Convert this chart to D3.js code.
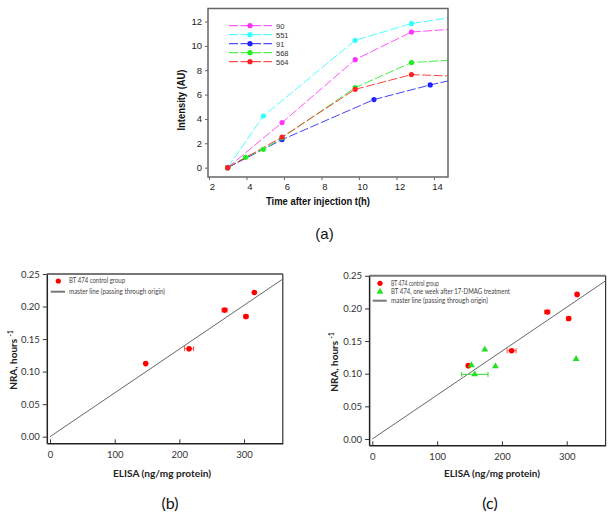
<!DOCTYPE html>
<html><head><meta charset="utf-8">
<script src="https://cdn.jsdelivr.net/npm/d3@7"></script>
<style>body{margin:0;background:#fff}svg{display:block}</style>
</head><body>
<svg id="c" width="616" height="520"></svg>
<script>
// ---------- Data: panel (a) ----------
const seriesNames = ["90", "551", "91", "568", "564"];
const seriesColors = ["#ff33ff", "#33ffff", "#2222ff", "#22ee22", "#ff2222"];
const t90  = [3, 5.9, 9.8, 12.8];        const v90  = [0, 3.7, 8.87, 11.14];
const t551 = [3, 4.9, 9.8, 12.8];        const v551 = [0, 4.24, 10.46, 11.83];
const t91  = [3, 5.9, 10.8, 13.8];       const v91  = [0, 2.3, 5.59, 6.79];
const t568 = [3, 3.95, 4.9, 5.9, 9.8, 12.8]; const v568 = [0, 0.85, 1.5, 2.45, 6.57, 8.63];
const t564 = [3, 5.9, 9.8, 12.8];        const v564 = [0, 2.51, 6.43, 7.64];
// value where each line leaves the right edge of the frame
const edgeT = 14.75;
const edgeValues = [11.34, 12.29, 7.12, 8.82, 7.53];
const aXTicks = [2, 4, 6, 8, 10, 12, 14];
const aYTicks = [0, 2, 4, 6, 8, 10, 12];

// ---------- Data: panels (b), (c) ----------
const ctrlElisa = [148, 215, 270, 303, 316];
const ctrlNra   = [0.1123, 0.1352, 0.1945, 0.1845, 0.2215];
const ctrlErr   = [0, 7, 4, 3, 0];
const trtElisa  = [153, 173.5, 190, 158, 314.5];
const trtNra    = [0.113, 0.137, 0.1112, 0.099, 0.1225];
const trtErr    = [0, 0, 0, 20.5, 0];
const masterSlope = 0.000673; // NRA per ng/mg
const bXTicks = [0, 100, 200, 300];
const bYTicks = [0, 0.05, 0.10, 0.15, 0.20, 0.25];

const svg = d3.select("#c");
const arial = "'Liberation Sans', Arial, sans-serif";
const cal = "Lato, 'Open Sans', sans-serif";

// ================= Panel (a) =================
(function(){
  const x = d3.scaleLinear().domain([1.95, 14.75]).range([208, 448]);
  const y = d3.scaleLinear().domain([-0.77, 13.07]).range([177, 8.5]);
  const g = svg.append("g");
  g.append("defs").append("clipPath").attr("id","clipA")
    .append("rect").attr("x",208).attr("y",8.5).attr("width",240).attr("height",168.5);

  const ts = [t90, t551, t91, t568, t564];
  const vs = [v90, v551, v91, v568, v564];
  const line = d3.line().x(d => x(d[0])).y(d => y(d[1]));
  const lg = g.append("g").attr("clip-path","url(#clipA)");
  seriesNames.forEach((n, i) => {
    const pts = ts[i].map((t, j) => [t, vs[i][j]]).concat([[edgeT, edgeValues[i]]]);
    lg.append("path").attr("d", line(pts)).attr("fill","none")
      .attr("stroke", seriesColors[i]).attr("stroke-width", 1)
      .attr("stroke-dasharray","9,2.5").attr("opacity",0.85);
  });
  seriesNames.forEach((n, i) => {
    lg.selectAll(null).data(ts[i].map((t, j) => [t, vs[i][j]])).enter().append("circle")
      .attr("cx", d => x(d[0])).attr("cy", d => y(d[1])).attr("r", 2.6)
      .attr("fill", seriesColors[i]);
  });

  // frame
  g.append("rect").attr("x",208).attr("y",8.5).attr("width",240).attr("height",168.5)
    .attr("fill","none").attr("stroke","#666").attr("stroke-width",1.5);

  const xa = g.append("g").attr("transform","translate(0,177)")
    .call(d3.axisBottom(x).tickValues(aXTicks).tickSize(3).tickPadding(3));
  const ya = g.append("g").attr("transform","translate(208,0)")
    .call(d3.axisLeft(y).tickValues(aYTicks).tickSize(3).tickPadding(3));
  [xa, ya].forEach(a => {
    a.select(".domain").remove();
    a.selectAll("line").attr("stroke","#666");
    a.selectAll("text").attr("font-family",arial).attr("font-size",9.5).attr("fill","#222");
  });
  xa.selectAll("text").attr("dx", 3);

  g.append("text").attr("x",318).attr("y",205).attr("text-anchor","middle")
    .attr("font-family",arial).attr("font-weight","bold").attr("font-size",10)
    .attr("textLength",104).attr("lengthAdjust","spacingAndGlyphs").attr("fill","#111")
    .text("Time after injection  t(h)");
  g.append("text").attr("transform","translate(185,100) rotate(-90)").attr("text-anchor","middle")
    .attr("font-family",arial).attr("font-weight","bold").attr("font-size",10)
    .attr("textLength",61).attr("lengthAdjust","spacingAndGlyphs").attr("fill","#111")
    .text("Intensity (AU)");

  // legend
  const leg = g.append("g");
  seriesNames.forEach((n, i) => {
    const yy = 25.7 + i * 9;
    leg.append("line").attr("x1",229).attr("x2",272).attr("y1",yy).attr("y2",yy)
      .attr("stroke", seriesColors[i]).attr("stroke-width",1).attr("stroke-dasharray","9,2.5");
    leg.append("circle").attr("cx",250).attr("cy",yy).attr("r",2.6).attr("fill",seriesColors[i]);
    leg.append("text").attr("x",276).attr("y",yy+2.8).attr("font-family",arial)
      .attr("font-size",7.5).attr("fill","#333").text(n);
  });

  g.append("text").attr("x",324.5).attr("y",239).attr("text-anchor","middle")
    .attr("font-family",arial).attr("font-size",15).attr("fill","#111").text("(a)");
})();

// ================= Panels (b) and (c) =================
function nraPanel(opt){
  const x = d3.scaleLinear().domain([-5, 360]).range([opt.x0, opt.x1]);
  const y = d3.scaleLinear().domain([opt.yMin, 0.25]).range([opt.yB, opt.yT]);
  const g = svg.append("g");
  const W = opt.x1 - opt.x0, H = opt.yB - opt.yT;
  g.append("defs").append("clipPath").attr("id","clip"+opt.id)
    .append("rect").attr("x",opt.x0).attr("y",opt.yT).attr("width",W).attr("height",H);

  // frame
  g.append("line").attr("x1",opt.x0).attr("x2",opt.x1).attr("y1",opt.yT).attr("y2",opt.yT)
    .attr("stroke","#777").attr("stroke-width",2);
  g.append("line").attr("x1",opt.x1).attr("x2",opt.x1).attr("y1",opt.yT).attr("y2",opt.yB)
    .attr("stroke","#333").attr("stroke-width",1.2);

  // master line
  g.append("path").attr("clip-path","url(#clip"+opt.id+")")
    .attr("d", d3.line().x(d => x(d)).y(d => y(d * masterSlope))([0, 400]))
    .attr("stroke","#666").attr("stroke-width",1).attr("fill","none");

  const pg = g.append("g").attr("clip-path","url(#clip"+opt.id+")");
  function errBars(xs, ys, es, col){
    xs.forEach((xv, i) => {
      if (!es[i]) return;
      const yy = y(ys[i]);
      pg.append("line").attr("x1",x(xv-es[i])).attr("x2",x(xv+es[i])).attr("y1",yy).attr("y2",yy)
        .attr("stroke",col).attr("stroke-width",1);
      [xv-es[i], xv+es[i]].forEach(e => pg.append("line").attr("x1",x(e)).attr("x2",x(e))
        .attr("y1",yy-2.5).attr("y2",yy+2.5).attr("stroke",col).attr("stroke-width",1));
    });
  }
  errBars(ctrlElisa, ctrlNra, ctrlErr, "#ff5555");
  if (opt.treated) errBars(trtElisa, trtNra, trtErr, "#33dd33");
  pg.selectAll(null).data(ctrlElisa).enter().append("circle")
    .attr("cx", d => x(d)).attr("cy", (d, i) => y(ctrlNra[i])).attr("r", 2.8).attr("fill","#ff0000");
  if (opt.treated) {
    const tri = d3.symbol().type(d3.symbolTriangle).size(20);
    pg.selectAll(null).data(trtElisa).enter().append("path").attr("d", tri)
      .attr("transform", (d, i) => `translate(${x(d)},${y(trtNra[i])})`).attr("fill","#22e022");
  }

  // axes
  const xa = g.append("g").attr("transform",`translate(0,${opt.yB})`)
    .call(d3.axisBottom(x).tickValues(bXTicks).tickSizeInner(-4).tickSizeOuter(0).tickPadding(8));
  const ya = g.append("g").attr("transform",`translate(${opt.x0},0)`)
    .call(d3.axisLeft(y).tickValues(bYTicks).tickFormat(d3.format(".2f")).tickSizeInner(4).tickSizeOuter(0).tickPadding(3));
  [xa, ya].forEach(a => {
    a.select(".domain").attr("stroke","#222").attr("stroke-width",1.5);
    a.selectAll("line").attr("stroke","#333");
    a.selectAll("text").attr("font-family",cal).attr("font-size",9.5).attr("fill","#333");
  });

  // titles
  g.append("text").attr("x",opt.xTitleX).attr("y",476.5).attr("text-anchor","middle")
    .attr("font-family",cal).attr("font-weight","bold").attr("font-size",10)
    .attr("textLength",opt.xTitleW).attr("lengthAdjust","spacingAndGlyphs").attr("fill","#222")
    .text("ELISA (ng/mg protein)");
  const yt = g.append("text").attr("transform",`translate(${opt.yTitleX},${opt.yTitleY}) rotate(-90)`)
    .attr("text-anchor","middle").attr("font-family",cal).attr("font-weight","bold")
    .attr("font-size",10).attr("fill","#222");
  yt.append("tspan").text("NRA, hours ");
  yt.append("tspan").attr("font-size",6.5).attr("dy",-4).text("-1");

  // legend
  const L = opt.legend;
  const lt = (yy, s, w) => g.append("text").attr("x",L.tx).attr("y",yy+2.3).attr("font-family",cal)
    .attr("font-size",7).attr("fill","#444").attr("textLength",w).attr("lengthAdjust","spacingAndGlyphs").text(s);
  g.append("circle").attr("cx",L.mx).attr("cy",L.y[0]).attr("r",2.6).attr("fill","#ff0000");
  lt(L.y[0], "BT 474 control group", L.w[0]);
  let k = 1;
  if (opt.treated) {
    g.append("path").attr("d", d3.symbol().type(d3.symbolTriangle).size(20))
      .attr("transform",`translate(${L.mx},${L.y[1]})`).attr("fill","#22e022");
    lt(L.y[1], "BT 474, one week  after 17-DMAG treatment", L.w[1]);
    k = 2;
  }
  g.append("line").attr("x1",L.lx1).attr("x2",L.lx2).attr("y1",L.y[k]).attr("y2",L.y[k])
    .attr("stroke","#777").attr("stroke-width",2);
  lt(L.y[k], "master line (passing through origin)", L.w[k]);

  g.append("text").attr("x",opt.capX).attr("y",508.5).attr("text-anchor","middle")
    .attr("font-family",cal).attr("font-size",16).attr("fill","#111").text(opt.cap);
}

nraPanel({id:"b", x0:46.8, x1:282.8, yT:274, yB:443.3, yMin:-0.0102, treated:false,
  xTitleX:162, xTitleW:98, yTitleX:17, yTitleY:360, cap:"(b)", capX:170,
  legend:{mx:58.3, tx:69, lx1:50.7, lx2:65, y:[281, 291.7], w:[56, 96]}});
nraPanel({id:"c", x0:369.1, x1:605.6, yT:275.8, yB:445.3, yMin:-0.0097, treated:true,
  xTitleX:492, xTitleW:96, yTitleX:338, yTitleY:362, cap:"(c)", capX:490,
  legend:{mx:380, tx:391, lx1:372.7, lx2:386.7, y:[283.3, 291.7, 300.7], w:[48, 119, 97]}});
</script>
</body></html>
